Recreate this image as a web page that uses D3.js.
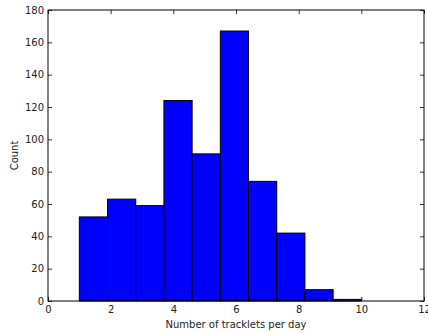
<!DOCTYPE html>
<html><head><meta charset="utf-8">
<script src="https://cdn.jsdelivr.net/npm/d3@7"></script>
<style>body{margin:0;background:#fff;} text{font-family:"DejaVu Sans",sans-serif;}</style>
</head><body>
<svg id="c" width="428" height="333"></svg>
<script>
const binEdges = [1.0,1.9,2.8,3.7,4.6,5.5,6.4,7.3,8.2,9.1,10.0];
const counts = [52,63,59,124,91,167,74,42,7,1];
const xTicks = [0,2,4,6,8,10,12];
const yTicks = [0,20,40,60,80,100,120,140,160,180];

const svg = d3.select("#c");
const m = {l:48, t:10, r:424, b:301};
const x = d3.scaleLinear().domain([0,12]).range([m.l,m.r]);
const y = d3.scaleLinear().domain([0,180]).range([m.b,m.t]);

svg.append("g").selectAll("rect").data(counts).join("rect")
  .attr("x",(d,i)=>x(binEdges[i]))
  .attr("width",(d,i)=>x(binEdges[i+1])-x(binEdges[i]))
  .attr("y",d=>y(d))
  .attr("height",d=>y(0)-y(d))
  .attr("fill","#0000ff").attr("stroke","#000").attr("stroke-width",1);

const fs = 10;
const tickLen = 4;
const gx = svg.append("g").attr("transform",`translate(0,${m.b})`)
  .call(d3.axisBottom(x).tickValues(xTicks).tickSize(-tickLen).tickPadding(5).tickFormat(d3.format("d")));
const gxt = svg.append("g").attr("transform",`translate(0,${m.t})`)
  .call(d3.axisTop(x).tickValues(xTicks).tickSize(-tickLen).tickFormat(""));
const gy = svg.append("g").attr("transform",`translate(${m.l},0)`)
  .call(d3.axisLeft(y).tickValues(yTicks).tickSize(-tickLen).tickPadding(4).tickFormat(d3.format("d")));
const gyr = svg.append("g").attr("transform",`translate(${m.r},0)`)
  .call(d3.axisRight(y).tickValues(yTicks).tickSize(-tickLen).tickFormat(""));
[gx,gxt,gy,gyr].forEach(g=>{
  g.select(".domain").remove();
  g.selectAll("line").attr("stroke","#000").attr("stroke-width",0.8);
  g.selectAll("text").attr("font-size",fs).attr("fill","#222").style("font-family","DejaVu Sans");
});
svg.append("rect").attr("x",m.l).attr("y",m.t).attr("width",m.r-m.l).attr("height",m.b-m.t)
  .attr("fill","none").attr("stroke","#000").attr("stroke-width",1);

svg.append("text").attr("x",(m.l+m.r)/2).attr("y",328).attr("text-anchor","middle")
  .attr("font-size",fs).attr("fill","#222").text("Number of tracklets per day");
svg.append("text").attr("transform",`translate(18,${(m.t+m.b)/2}) rotate(-90)`).attr("text-anchor","middle")
  .attr("font-size",fs).attr("fill","#222").text("Count");
</script>
</body></html>
